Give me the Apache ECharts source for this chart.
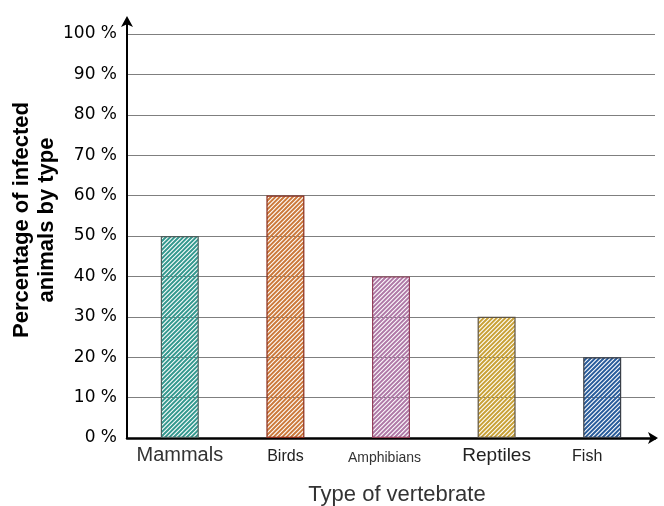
<!DOCTYPE html>
<html>
<head>
<meta charset="utf-8">
<script src="https://cdn.jsdelivr.net/npm/echarts@6/dist/echarts.min.js"></script>
<style>
  html, body { margin: 0; padding: 0; background: #fff; }
  #main { width: 664px; height: 506px; }
</style>
</head>
<body>
<div id="main"></div>
<script>
// 数据
const categories = ['Mammals', 'Birds', 'Amphibians', 'Reptiles', 'Fish']
const values = [50, 60, 40, 30, 20]
const stripeColors = ['#35998f', '#cc7a3c', '#b07aa8', '#c9a238', '#2a5d9c']
const borderColors = ['#4f5f5d', '#8a2c1c', '#93405a', '#5e5444', '#3a3f48']

// 斜线填充 (间隔透明，网格线可以透出来)
function hatch(color) {
  const n = 13, k = 3
  const c = document.createElement('canvas')
  c.width = n
  c.height = n
  const ctx = c.getContext('2d')
  ctx.strokeStyle = color
  ctx.lineWidth = 2
  ctx.beginPath()
  for (let j = 0; j <= 2 * k; j++) {
    const s = j * n / k
    ctx.moveTo(s + 2, -2)
    ctx.lineTo(-2, s + 2)
  }
  ctx.stroke()
  return c
}

const gridLeft = 127, gridTop = 34

const labelRich = {
  c0: { fontSize: 20, fontFamily: 'Liberation Sans', color: '#333', lineHeight: 24, verticalAlign: 'bottom' },
  c1: { fontSize: 16, fontFamily: 'Liberation Sans', color: '#222', lineHeight: 24, verticalAlign: 'bottom' },
  c2: { fontSize: 14, fontFamily: 'Liberation Sans', color: '#333', lineHeight: 24, verticalAlign: 'bottom', padding: [0, 13, 0, 0] },
  c3: { fontSize: 19, fontFamily: 'Liberation Sans', color: '#222', lineHeight: 24, verticalAlign: 'bottom' },
  c4: { fontSize: 16, fontFamily: 'Liberation Sans', color: '#222', lineHeight: 24, verticalAlign: 'bottom', padding: [0, 30, 0, 0] },
}

const option = {
  animation: false,
  backgroundColor: '#fff',
  grid: { left: gridLeft, right: 9, top: gridTop, bottom: 68, outerBoundsMode: 'none', containLabel: false },
  xAxis: {
    type: 'category',
    data: categories,
    name: 'Type of vertebrate',
    nameLocation: 'middle',
    nameGap: 46,
    nameMoveOverlap: false,
    nameTextStyle: { fontSize: 22, fontFamily: 'Liberation Sans', color: '#333', padding: [0, 0, 0, 12] },
    axisLine: {
      lineStyle: { color: '#000', width: 2.5 },
      symbol: ['none', 'arrow'],
      symbolSize: [9, 10],
      symbolOffset: [0, 3],
    },
    axisTick: { show: false },
    axisLabel: {
      interval: 0,
      hideOverlap: false,
      margin: 3,
      formatter: (v, i) => '{c' + i + '|' + v + '}',
      rich: labelRich,
    },
  },
  yAxis: {
    type: 'value',
    min: 0,
    max: 100,
    interval: 10,
    name: 'Percentage of infected\nanimals by type',
    nameLocation: 'middle',
    nameRotate: 90,
    nameGap: 68,
    nameMoveOverlap: false,
    nameTextStyle: {
      fontSize: 22, fontWeight: 'bold', fontFamily: 'Liberation Sans', color: '#000',
      lineHeight: 25, padding: [0, 0, 0, 32],
    },
    axisLine: {
      show: true,
      lineStyle: { color: '#000', width: 2 },
      symbol: ['none', 'arrow'],
      symbolSize: [9, 11],
      symbolOffset: [0, 18],
    },
    axisTick: { show: false },
    axisLabel: {
      margin: 10,
      formatter: '{value} %',
      fontSize: 17,
      fontFamily: 'DejaVu Sans',
      color: '#000',
    },
    splitLine: { lineStyle: { color: '#7f7f7f', width: 1.2 } },
  },
  series: [{
    type: 'bar',
    barWidth: 38,
    data: values.map((v, i) => ({
      value: v,
      itemStyle: {
        color: { image: hatch(stripeColors[i]), repeat: 'repeat' },
        borderColor: borderColors[i],
        borderWidth: 1.2,
      },
    })),
  }],
  graphic: [{
    type: 'line',
    shape: { x1: gridLeft, y1: gridTop, x2: gridLeft, y2: 18 },
    style: { stroke: '#000', lineWidth: 2 },
  }],
}

const chart = echarts.init(document.getElementById('main'), null, { renderer: 'canvas' })
chart.setOption(option)
</script>
</body>
</html>
